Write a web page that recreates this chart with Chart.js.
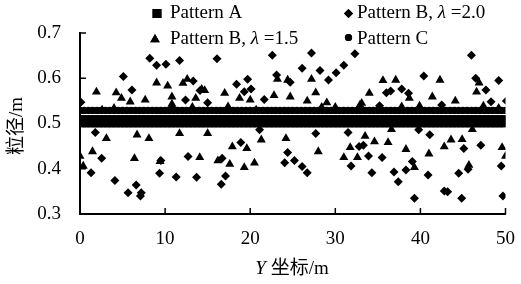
<!DOCTYPE html>
<html>
<head>
<meta charset="utf-8">
<script src="https://cdn.jsdelivr.net/npm/chart.js@4/dist/chart.umd.min.js"></script>
<style>
    html, body { margin: 0; padding: 0; background: #fff; }
</style>
</head>
<body>
<canvas id="chartCanvas" width="521" height="284"></canvas>
<script>
// sampling positions of the uniform patterns (m)
const gridX = [0, 0.5, 1, 1.5, 2, 2.5, 3, 3.5, 4, 4.5, 5, 5.5, 6, 6.5, 7, 7.5, 8, 8.5, 9, 9.5,
    10, 10.5, 11, 11.5, 12, 12.5, 13, 13.5, 14, 14.5, 15, 15.5, 16, 16.5, 17, 17.5, 18, 18.5, 19, 19.5,
    20, 20.5, 21, 21.5, 22, 22.5, 23, 23.5, 24, 24.5, 25, 25.5, 26, 26.5, 27, 27.5, 28, 28.5, 29, 29.5,
    30, 30.5, 31, 31.5, 32, 32.5, 33, 33.5, 34, 34.5, 35, 35.5, 36, 36.5, 37, 37.5, 38, 38.5, 39, 39.5,
    40, 40.5, 41, 41.5, 42, 42.5, 43, 43.5, 44, 44.5, 45, 45.5, 46, 46.5, 47, 47.5, 48, 48.5, 49, 49.5, 50];
const patternASize = 0.505;
const patternCSize = 0.529;

// Pattern B, lambda = 2.0 (diamonds)
const b20X = [0.1, 8.2, 9.0, 10.1, 11.7, 16.1, 5.1, 6.1, 12.4, 13.3, 10.8, 14.1, 15.0, 1.8, 2.55, 1.3,
    4.1, 6.6, 5.65, 7.2, 7.1, 9.5, 9.35, 12.7, 11.3, 13.7, 16.6,
    22.6, 18.4, 19.7, 19.3, 20.1, 21.65, 23.1, 24.7, 21.1, 18.9, 16.7, 17.1, 24.4, 24.05,
    27.2, 32.3, 26.1, 28.2, 31.0, 30.1, 29.2, 27.7, 31.5, 32.8, 31.85, 25.2, 26.1, 26.7,
    40.4, 36.0, 36.5, 37.8, 38.6, 35.2, 39.8, 41.1, 33.3, 33.9, 35.5, 39.05, 38.3, 36.9, 34.3, 37.4, 40.9, 39.3,
    46.0, 46.5, 49.2, 47.7, 48.3, 50.1, 42.5, 45.1, 47.1, 49.5, 45.6, 44.5, 42.8, 43.2, 44.85, 49.7];
const b20Y = [0.547, 0.644, 0.629, 0.631, 0.639, 0.643, 0.604, 0.574, 0.552, 0.594, 0.535, 0.573, 0.546, 0.48, 0.423, 0.391,
    0.374, 0.364, 0.347, 0.347, 0.34, 0.418, 0.39, 0.427, 0.382, 0.381, 0.366,
    0.651, 0.587, 0.598, 0.57, 0.576, 0.553, 0.607, 0.591, 0.486, 0.458, 0.423, 0.384, 0.436, 0.413,
    0.656, 0.654, 0.622, 0.617, 0.629, 0.612, 0.596, 0.478, 0.48, 0.449, 0.406, 0.418, 0.405, 0.391,
    0.605, 0.568, 0.572, 0.576, 0.567, 0.539, 0.486, 0.475, 0.452, 0.428, 0.425, 0.416, 0.397, 0.393, 0.391, 0.371, 0.386, 0.335,
    0.651, 0.6, 0.595, 0.574, 0.548, 0.55, 0.541, 0.445, 0.452, 0.406, 0.399, 0.39, 0.351, 0.349, 0.335, 0.34];

// Pattern B, lambda = 1.5 (triangles)
const b15X = [1.93, 4.25, 4.87, 5.9, 7.66, 2.6, 4.0, 3.1, 6.7, 8.1, 0, 1.47, 6.4, 0.38,
    9.0, 10.3, 12.1, 12.6, 14.3, 14.65, 10.8, 13.6, 10.8, 13.2, 11.7, 15.0, 9.4, 14.07, 16.2,
    17.0, 18.75, 20.0, 23.2, 24.4, 22.8, 24.7, 17.4, 20.7, 24.2, 21.3, 17.9, 19.6, 17.6, 19.3, 20.5,
    27.2, 27.7, 26.7, 29.0, 30.0, 32.9, 28.4, 28.0, 31.75, 31.0, 32.6,
    35.6, 37.1, 34.0, 38.7, 41.4, 33.1, 37.8, 39.9, 36.6, 33.5, 34.6, 36.2, 38.3, 41.0, 39.3,
    42.3, 46.9, 46.6, 44.1, 47.4, 49.2, 46.1, 43.6, 44.9, 42.8, 49.6, 50.0, 45.7];
const b15Y = [0.57, 0.568, 0.556, 0.548, 0.552, 0.53, 0.534, 0.467, 0.475, 0.467, 0.428, 0.438, 0.423, 0.406,
    0.59, 0.583, 0.589, 0.598, 0.576, 0.573, 0.559, 0.556, 0.543, 0.536, 0.478, 0.478, 0.416, 0.425, 0.418,
    0.567, 0.556, 0.552, 0.598, 0.596, 0.562, 0.559, 0.537, 0.53, 0.467, 0.464, 0.449, 0.445, 0.41, 0.403, 0.413,
    0.598, 0.568, 0.55, 0.546, 0.536, 0.541, 0.536, 0.438, 0.447, 0.425, 0.425,
    0.595, 0.596, 0.567, 0.556, 0.559, 0.545, 0.537, 0.539, 0.487, 0.472, 0.46, 0.458, 0.443, 0.433, 0.403,
    0.596, 0.59, 0.57, 0.55, 0.539, 0.534, 0.487, 0.464, 0.465, 0.449, 0.447, 0.428, 0.408];

const seriesLabels = ["Pattern A", "Pattern B, λ=2.0", "Pattern B, λ=1.5", "Pattern C"];
const xTitle = ["Y", " 坐标/m"];
const yTitle = "粒径/m";

const fontFamily = "'Liberation Serif', 'Times New Roman', 'Noto Sans CJK SC', serif";

function pairs(xs, ys) {
    return xs.map((x, i) => ({ x: x, y: ys[i] }));
}

function axisExtras(chart) {
    const ctx = chart.ctx;
    const xs = chart.scales.x;
    const ys = chart.scales.y;
    const area = chart.chartArea;

    ctx.save();
    ctx.strokeStyle = "#000";
    ctx.lineWidth = 1.5;
    // inward tick marks
    xs.ticks.forEach((t) => {
        let px = xs.getPixelForValue(t.value);
        ctx.beginPath();
        ctx.moveTo(px, area.bottom);
        ctx.lineTo(px, area.bottom - 6);
        ctx.stroke();
    });
    ys.ticks.forEach((t) => {
        let py = ys.getPixelForValue(t.value);
        ctx.beginPath();
        ctx.moveTo(area.left, py);
        ctx.lineTo(area.left + 6, py);
        ctx.stroke();
    });

    ctx.fillStyle = "#000";
    ctx.textBaseline = "alphabetic";

    // x title, italic Y
    let normal = "19px " + fontFamily;
    let italic = "italic 19px " + fontFamily;
    ctx.font = italic;
    let w1 = ctx.measureText(xTitle[0]).width;
    ctx.font = normal;
    let w2 = ctx.measureText(xTitle[1]).width;
    let sx = 292 - (w1 + w2) / 2;
    ctx.font = italic;
    ctx.textAlign = "left";
    ctx.fillText(xTitle[0], sx, 274);
    ctx.font = normal;
    ctx.fillText(xTitle[1], sx + w1, 274);

    // y title
    ctx.save();
    ctx.translate(17, 126);
    ctx.rotate(-Math.PI / 2);
    ctx.textAlign = "center";
    ctx.textBaseline = "middle";
    ctx.fillText(yTitle, 0, 0);
    ctx.restore();

    // legend, two columns
    const legendItems = [
        { style: "rect", r: 6.3, mx: 157, my: 13.5, tx: 170, ty: 18 },
        { style: "rectRot", r: 4.5, mx: 348.5, my: 13.5, tx: 357, ty: 18 },
        { style: "triangle", r: 5.5, mx: 155, my: 39.5, tx: 170, ty: 44 },
        { style: "circle", r: 3.6, mx: 348.5, my: 37.5, tx: 357, ty: 44 },
    ];
    legendItems.forEach((it, i) => {
        Chart.helpers.drawPoint(ctx, { pointStyle: it.style, radius: it.r, rotation: 0, borderWidth: 0 }, it.mx, it.my);
        ctx.fill();
        ctx.textAlign = "left";
        let label = seriesLabels[i];
        let lam = label.indexOf("λ");
        if (lam < 0) {
            ctx.font = normal;
            ctx.fillText(label, it.tx, it.ty);
        } else {
            let head = label.slice(0, lam);
            let tail = " " + label.slice(lam + 1);
            ctx.font = normal;
            ctx.fillText(head, it.tx, it.ty);
            let x = it.tx + ctx.measureText(head).width;
            ctx.font = italic;
            ctx.fillText("λ", x, it.ty);
            x += ctx.measureText("λ").width;
            ctx.font = normal;
            ctx.fillText(tail, x, it.ty);
        }
    });
    ctx.restore();
}

const ctx = document.getElementById("chartCanvas").getContext("2d");

new Chart(ctx, {
    type: "scatter",
    data: {
        datasets: [
            {
                label: seriesLabels[0],
                data: gridX.map((x) => ({ x: x, y: patternASize })),
                pointStyle: "rect",
                pointRadius: 8.5,
                backgroundColor: "#000",
                borderWidth: 0,
            },
            {
                label: seriesLabels[1],
                data: pairs(b20X, b20Y),
                pointStyle: "rectRot",
                pointRadius: 4.5,
                backgroundColor: "#000",
                borderWidth: 0,
            },
            {
                label: seriesLabels[2],
                data: pairs(b15X, b15Y),
                pointStyle: "triangle",
                pointRadius: 5.2,
                backgroundColor: "#000",
                borderWidth: 0,
            },
            {
                label: seriesLabels[3],
                data: gridX.map((x) => ({ x: x, y: patternCSize })),
                pointStyle: "circle",
                pointRadius: 3.6,
                backgroundColor: "#000",
                borderWidth: 0,
            },
        ],
    },
    options: {
        responsive: false,
        animation: false,
        devicePixelRatio: 1,
        layout: { padding: { left: 0, right: 10, top: 33, bottom: 0 } },
        plugins: {
            legend: { display: false },
            tooltip: { enabled: false },
        },
        scales: {
            x: {
                type: "linear",
                min: 0,
                max: 50,
                grid: { display: false },
                border: { display: true, color: "#000", width: 2 },
                ticks: {
                    stepSize: 10,
                    color: "#000",
                    padding: 6,
                    font: { family: fontFamily, size: 19 },
                },
                afterFit: (scale) => { scale.height = 70; },
            },
            y: {
                min: 0.3,
                max: 0.7,
                grid: { display: false },
                border: { display: true, color: "#000", width: 2 },
                ticks: {
                    stepSize: 0.1,
                    color: "#000",
                    padding: 11,
                    font: { family: fontFamily, size: 19 },
                    callback: (v) => v.toFixed(1),
                },
                afterFit: (scale) => { scale.width = 80; },
            },
        },
    },
    plugins: [{ id: "axisExtras", afterDraw: axisExtras }],
});
</script>
</body>
</html>
